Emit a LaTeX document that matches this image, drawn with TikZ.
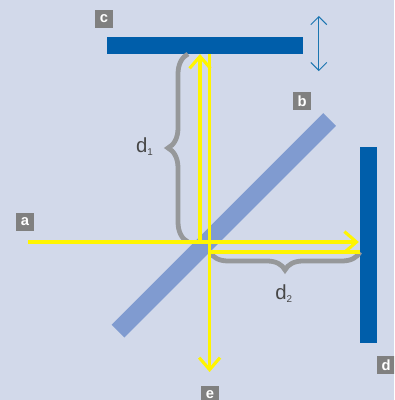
\documentclass[tikz,border=0pt]{standalone}
\usepackage{fontspec}
\setmainfont{Liberation Sans}
\usetikzlibrary{arrows.meta,decorations.pathreplacing}
\definecolor{panelbg}{HTML}{D2D9EA}
\definecolor{mirrorblue}{HTML}{005EAA}
\definecolor{splitterblue}{HTML}{809BD0}
\definecolor{bracegray}{HTML}{96989A}
\definecolor{tagcolor}{HTML}{808080}
\definecolor{beamyellow}{HTML}{FFF500}
\definecolor{shiftblue}{HTML}{1B75B0}
\tikzset{
    tag/.style={fill=tagcolor, text=white, font=\fontsize{10.5}{11}\selectfont\bfseries, minimum size=0.45cm, inner sep=0pt},
    beam/.style={draw=beamyellow, line width=2.35pt},
    beamtip/.style={-{Straight Barb[length=0.3cm, width=0.52cm, line width=2.2pt]}},
    curly/.style={draw=bracegray, line width=3.4pt, decorate},
    dist/.style={text=black!72, font=\fontsize{14.5}{16}\selectfont},
}
\begin{document}
\begin{tikzpicture}
    \clip (0,0) rectangle (9.85,10);
    \fill[panelbg] (0,0) rectangle (9.85,10);

    \coordinate (source) at (0.7,3.95);
    \coordinate (hitd) at (8.97,3.95);
    \coordinate (backd) at (9,3.7);
    \coordinate (split) at (5.2,3.7);
    \coordinate (upstart) at (5,3.95);
    \coordinate (hitc) at (5,8.65);
    \coordinate (backc) at (5.24,8.65);
    \coordinate (exit) at (5.24,0.7);
    \coordinate (splita) at (8.24,7.01);
    \coordinate (splitb) at (2.95,1.72);
    \coordinate (shifta) at (7.97,9.6);
    \coordinate (shiftb) at (7.97,8.22);
    \coordinate (bracec) at (4.7,3.95);
    \coordinate (bracectop) at (4.7,8.65);
    \coordinate (braced) at (9,3.7);
    \coordinate (bracedleft) at (5.25,3.7);

    % mirrors and splitter
    \draw[splitterblue, line width=12.8pt] (splita) -- (splitb);
    \fill[mirrorblue] (2.675,8.65) rectangle (7.575,9.075);
    \fill[mirrorblue] (9,1.425) rectangle (9.425,6.325);

    \draw[shiftblue, line width=0.7pt, {Straight Barb[length=0.2cm, width=0.4cm]}-{Straight Barb[length=0.2cm, width=0.4cm]}] (shifta) -- (shiftb);

    % braces
    \draw[curly, decoration={brace, amplitude=0.5cm}] (bracec) -- (bracectop);
    \draw[curly, decoration={brace, amplitude=0.45cm}] (braced) -- (bracedleft);

    % beams
    \draw[beam, beamtip] (source) -- (hitd);
    \draw[beam, beamtip] (upstart) -- (hitc);
    \draw[beam, beamtip] (backc) -- (exit);
    \draw[beam] (split) -- (backd);

    \node[dist] (done) at (3.62,6.33) {d\textsubscript{\fontsize{7}{8}\selectfont 1}};
    \node[dist] (dtwo) at (7.1,2.67) {d\textsubscript{\fontsize{7}{8}\selectfont 2}};

    \node[tag] (a) at (0.625,4.45) {a};
    \node[tag] (b) at (7.55,7.475) {b};
    \node[tag] (c) at (2.6,9.525) {c};
    \node[tag] (d) at (9.65,0.875) {d};
    \node[tag] (e) at (5.25,0.125) {e};
\end{tikzpicture}
\end{document}
